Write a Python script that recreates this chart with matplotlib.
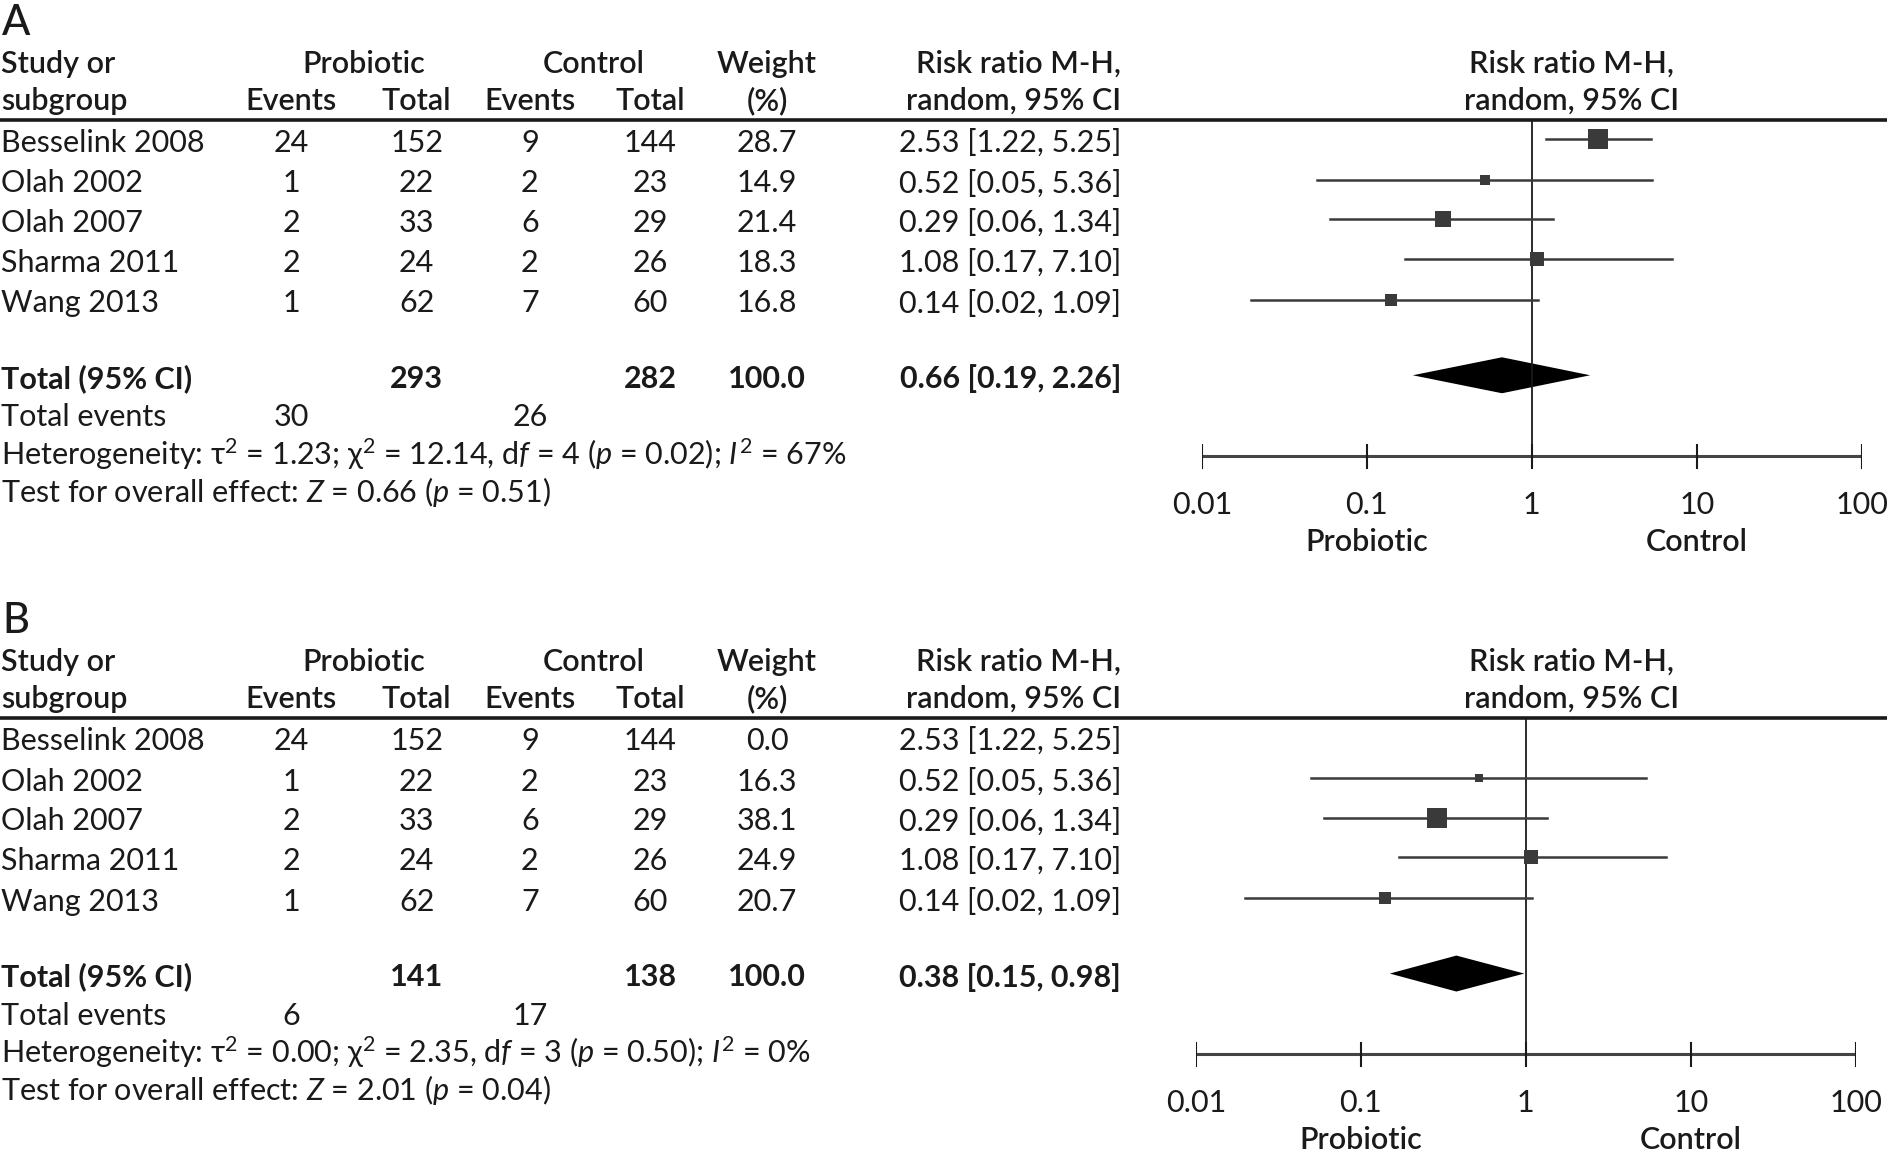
import matplotlib
matplotlib.use("Agg")
import matplotlib.pyplot as plt
import numpy as np

# ---- data -------------------------------------------------------------
studies = ["Besselink 2008", "Olah 2002", "Olah 2007", "Sharma 2011", "Wang 2013"]
pro_events = [24, 1, 2, 2, 1]
pro_total = [152, 22, 33, 24, 62]
ctl_events = [9, 2, 6, 2, 7]
ctl_total = [144, 23, 29, 26, 60]
rr = [2.53, 0.52, 0.29, 1.08, 0.14]
rr_lo = [1.22, 0.05, 0.06, 0.17, 0.02]
rr_hi = [5.25, 5.36, 1.34, 7.10, 1.09]

weights_a = [28.7, 14.9, 21.4, 18.3, 16.8]
weights_b = [0.0, 16.3, 38.1, 24.9, 20.7]

total_a = dict(pro=293, ctl=282, rr=0.66, lo=0.19, hi=2.26, ev_pro=30, ev_ctl=26)
total_b = dict(pro=141, ctl=138, rr=0.38, lo=0.15, hi=0.98, ev_pro=6, ev_ctl=17)

het_a = r"Heterogeneity: τ$^2$ = 1.23; χ$^2$ = 12.14, d$f$ = 4 ($p$ = 0.02); $I^2$ = 67%"
het_b = r"Heterogeneity: τ$^2$ = 0.00; χ$^2$ = 2.35, d$f$ = 3 ($p$ = 0.50); $I^2$ = 0%"
test_a = r"Test for overall effect: $Z$ = 0.66 ($p$ = 0.51)"
test_b = r"Test for overall effect: $Z$ = 2.01 ($p$ = 0.04)"

ticks = [0.01, 0.1, 1, 10, 100]
tick_labels = ["0.01", "0.1", "1", "10", "100"]

# ---- style ------------------------------------------------------------
plt.rcParams["font.family"] = ["Lato", "DejaVu Sans"]
plt.rcParams["mathtext.fontset"] = "custom"
plt.rcParams["mathtext.rm"] = "Lato"
plt.rcParams["mathtext.it"] = "Lato:italic"
plt.rcParams["mathtext.bf"] = "Lato:bold"

INK = "#1a1a1a"
MARK = "#3a3a3a"
FS = 22
W, H = 1567, 960  # layout grid in reference pixels

fig = plt.figure(figsize=(18.87, 11.51), dpi=100)
main = fig.add_axes([0, 0, 1, 1])
main.set_xlim(0, W)
main.set_ylim(H, 0)
main.axis("off")


def txt(x, y, s, ha="left", weight="normal", size=FS, **kw):
    main.text(x, y + 3, s, ha=ha, va="center", fontsize=size, weight=weight,
              color=INK, **kw)


def panel(letter, y0, weights, tot, het, test, x_one):
    # y0 = y of the header rule
    txt(2, y0 - 84, letter, size=30, weight="medium")
    hy1, hy2 = y0 - 50, y0 - 19
    txt(1, hy1, "Study or", weight="semibold")
    txt(1, hy2, "subgroup", weight="semibold")
    txt(302, hy1, "Probiotic", ha="center", weight="semibold")
    txt(242, hy2, "Events", ha="center", weight="semibold")
    txt(346, hy2, "Total", ha="center", weight="semibold")
    txt(493, hy1, "Control", ha="center", weight="semibold")
    txt(440, hy2, "Events", ha="center", weight="semibold")
    txt(540, hy2, "Total", ha="center", weight="semibold")
    txt(637, hy1, "Weight", ha="center", weight="semibold")
    txt(637, hy2, "(%)", ha="center", weight="semibold")
    txt(931, hy1, "Risk ratio M-H,", ha="right", weight="semibold")
    txt(931, hy2, "random, 95% CI", ha="right", weight="semibold")
    txt(1305, hy1, "Risk ratio M-H,", ha="center", weight="semibold")
    txt(1305, hy2, "random, 95% CI", ha="center", weight="semibold")
    main.plot([0, W], [y0, y0], color=INK, lw=2.6, solid_capstyle="butt")

    row_y = y0 + np.array([16, 50, 83, 116, 150])
    for i, y in enumerate(row_y):
        txt(1, y, studies[i])
        txt(242, y, str(pro_events[i]), ha="center")
        txt(346, y, str(pro_total[i]), ha="center")
        txt(440, y, str(ctl_events[i]), ha="center")
        txt(540, y, str(ctl_total[i]), ha="center")
        txt(637, y, f"{weights[i]:.1f}", ha="center")
        txt(931, y, f"{rr[i]:.2f} [{rr_lo[i]:.2f}, {rr_hi[i]:.2f}]", ha="right")

    ty = y0 + 213
    txt(1, ty, "Total (95% CI)", weight="bold")
    txt(346, ty, str(tot["pro"]), ha="center", weight="bold")
    txt(540, ty, str(tot["ctl"]), ha="center", weight="bold")
    txt(637, ty, "100.0", ha="center", weight="bold")
    txt(931, ty, f"{tot['rr']:.2f} [{tot['lo']:.2f}, {tot['hi']:.2f}]",
        ha="right", weight="bold")
    txt(1, y0 + 245, "Total events")
    txt(242, y0 + 245, str(tot["ev_pro"]), ha="center")
    txt(440, y0 + 245, str(tot["ev_ctl"]), ha="center")
    txt(1, y0 + 276, het)
    txt(1, y0 + 307, test)

    # forest plot on its own log axis
    left = x_one - 273
    right = x_one + 275
    top, bottom = y0, y0 + 300
    ax = fig.add_axes([left / W, 1 - bottom / H, (right - left) / W, (bottom - top) / H])
    ax.set_xscale("log")
    ax.set_xlim(0.01, 100)
    ax.set_ylim(bottom, top)
    ax.axis("off")

    axis_y = y0 + 280
    ax.plot([1, 1], [y0, axis_y + 10], color=INK, lw=1.3)
    wmax = max(weights)
    for i, y in enumerate(row_y):
        if weights[i] <= 0:
            continue
        ax.plot([rr_lo[i], rr_hi[i]], [y, y], color=MARK, lw=1.8)
        side = 17 * weights[i] / wmax * 1.204 * 0.72
        ax.plot(rr[i], y, marker="s", ms=side, color=MARK, mew=0)
    dia_x = [tot["lo"], tot["rr"], tot["hi"], tot["rr"], tot["lo"]]
    dia_y = [ty, ty - 15, ty, ty + 15, ty]
    ax.fill(dia_x, dia_y, color="black", lw=0)

    ax.plot([0.01, 100], [axis_y, axis_y], color="#444444", lw=2.2)
    for t, lab in zip(ticks, tick_labels):
        ax.plot([t, t], [axis_y - 9, axis_y + 10], color=INK, lw=1.5)
        ax.text(t, axis_y + 41, lab, ha="center", va="center", fontsize=FS,
                color=INK, clip_on=False)
    ax.text(0.1, axis_y + 72, "Probiotic", ha="center", va="center",
            fontsize=FS, weight="semibold", color=INK, clip_on=False)
    ax.text(10, axis_y + 72, "Control", ha="center", va="center",
            fontsize=FS, weight="semibold", color=INK, clip_on=False)


panel("A", 100, weights_a, total_a, het_a, test_a, 1271)
panel("B", 599, weights_b, total_b, het_b, test_b, 1266)

fig.savefig("out.png", dpi=100, facecolor="white")
